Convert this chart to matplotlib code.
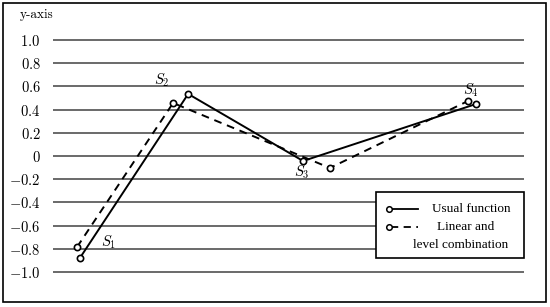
import matplotlib
matplotlib.use('Agg')
import matplotlib.pyplot as plt
from matplotlib.patches import Rectangle
from matplotlib.lines import Line2D

plt.rcParams['mathtext.fontset'] = 'cm'

# data (x is an unlabelled 0-100 axis)
usual_x = [5.7, 28.7, 53.1, 89.8]
usual_y = [-0.88, 0.535, -0.043, 0.448]
combo_x = [5.1, 25.5, 58.8, 88.1]
combo_y = [-0.785, 0.457, -0.103, 0.474]
point_names = ['$S_1$', '$S_2$', '$S_3$', '$S_4$']
name_x = [11.9, 23.1, 52.9, 88.7]
name_y = [-0.74, 0.655, -0.14, 0.57]
yticks = [-1.0, -0.8, -0.6, -0.4, -0.2, 0, 0.2, 0.4, 0.6, 0.8, 1.0]

W, H = 550, 307
fig = plt.figure(figsize=(W / 100, H / 100), dpi=100)
ax = fig.add_axes([53 / W, (H - 295.2) / H, 471 / W, 278.4 / H])
ax.set_xlim(0, 100)
ax.set_ylim(-1.2, 1.2)

for v in yticks:
    ax.axhline(v, color='#505050', lw=1.2, zorder=1)

ax.plot(usual_x, usual_y, color='black', lw=1.4, marker='o', ms=4.5,
        mfc='white', mec='black', mew=1.2, zorder=3)
ax.plot(combo_x, combo_y, color='black', lw=1.4, ls=(0, (4, 3)), marker='o',
        ms=4.5, mfc='white', mec='black', mew=1.2, zorder=3)

for name, x, y in zip(point_names, name_x, name_y):
    ax.text(x, y, name, fontsize=10.5, ha='center', va='center')

ax.set_yticks(yticks)
ax.set_yticklabels(['$0$' if v == 0 else f'${v:.1f}$' for v in yticks], fontsize=10.5)
ax.tick_params(axis='y', length=0, pad=9)
ax.set_xticks([])
for s in ax.spines.values():
    s.set_visible(False)

fig.text(20 / W, 1 - 15 / H, 'y-axis', family='cmr10', fontsize=9.5, va='center')

# outer frame
fig.patches.append(Rectangle((3 / W, 5 / H), 543 / W, 299 / H, transform=fig.transFigure,
                             fill=False, ec='black', lw=1.2))

# legend box drawn by hand to match the layout
def px(x, y):
    return x / W, 1 - y / H

fig.patches.append(Rectangle(px(376, 258), 148 / W, 66 / H, transform=fig.transFigure,
                             fc='white', ec='black', lw=1.2, zorder=5))
for yy, style in [(209, '-'), (227, (0, (4, 3)))]:
    (x0, y0), (x1, _) = px(391, yy), px(418, yy)
    fig.lines.append(Line2D([x0, x1], [y0, y0], color='black', lw=1.3, ls=style,
                            transform=fig.transFigure, zorder=6))
    fig.lines.append(Line2D([px(389, yy)[0]], [y0], marker='o', ms=4, mfc='white',
                            mec='black', mew=1.1, transform=fig.transFigure, zorder=7))
for (x, y), s in [((471, 209), 'Usual function'), ((466, 227), 'Linear and'),
                  ((461, 245), 'level combination')]:
    fig.text(*px(x, y), s, family='Liberation Serif', fontsize=9.5,
             ha='center', va='center', zorder=7)

fig.savefig('out.png', dpi=100)
